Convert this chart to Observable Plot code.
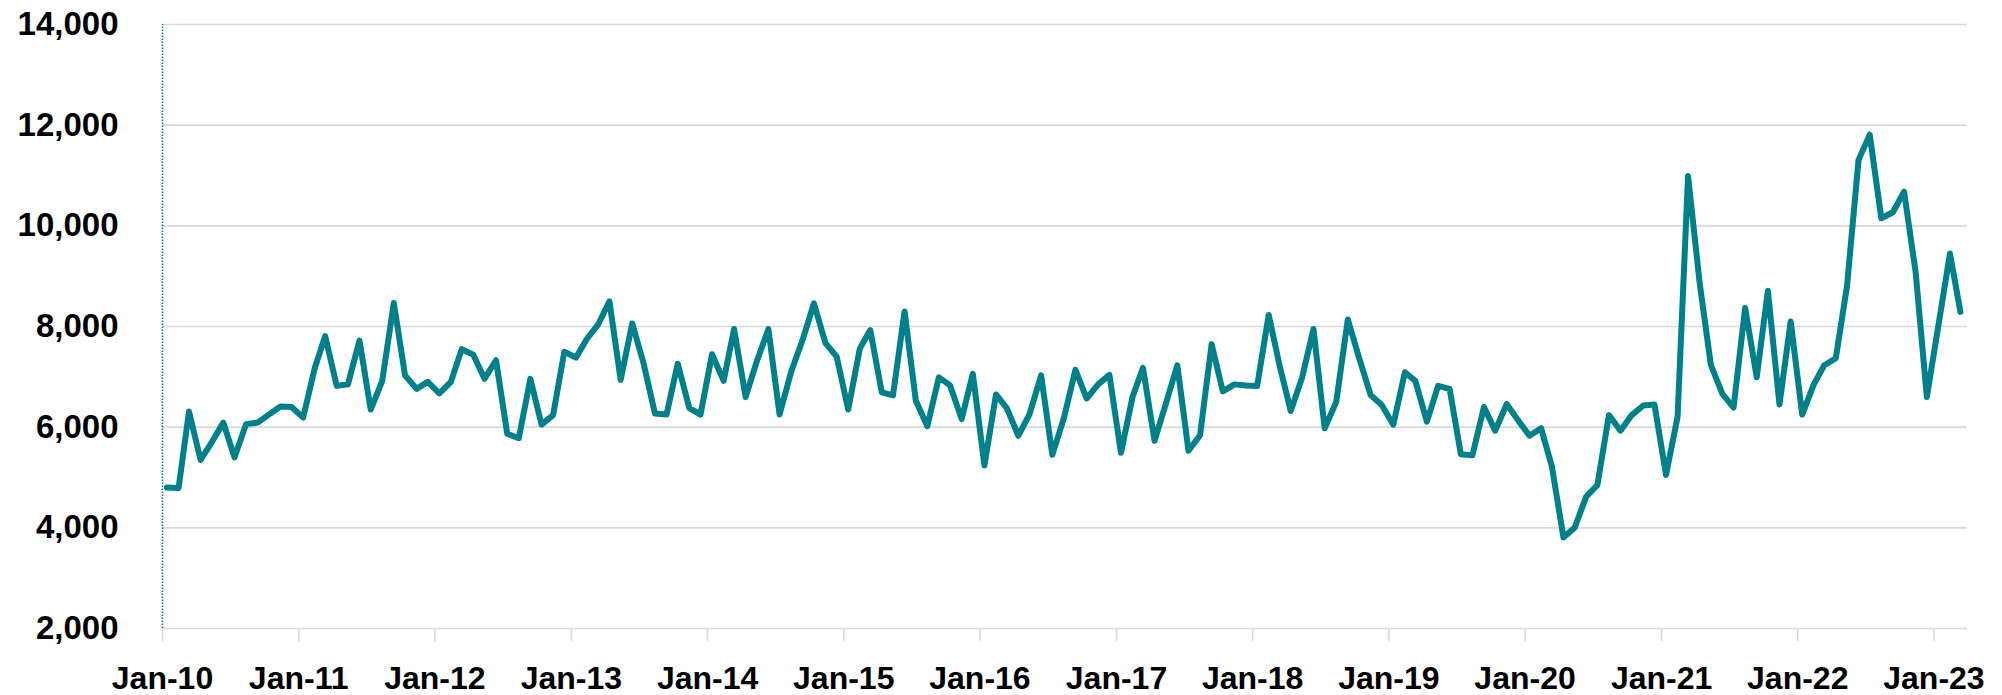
<!DOCTYPE html>
<html>
<head>
<meta charset="utf-8">
<script src="https://cdn.jsdelivr.net/npm/d3@7"></script>
<script src="https://cdn.jsdelivr.net/npm/@observablehq/plot@0.6"></script>
<style>
  html, body { margin: 0; padding: 0; background: #ffffff; }
  #chart { width: 2002px; height: 695px; }
</style>
</head>
<body>
<div id="chart"></div>
<script>
// Monthly series, Jan-10 .. Mar-23
const startYear = 2010;
const startMonth = 0;
const values = [
  4800, 4790, 6310, 5350, 5700, 6090, 5400, 6060, 6090, 6250, 6410, 6400,
  6190, 7170, 7810, 6820, 6850, 7720, 6350, 6920, 8470, 7030, 6760, 6900,
  6670, 6900, 7550, 7440, 6960, 7330, 5870, 5780, 6960, 6050, 6240, 7500,
  7380, 7770, 8030, 8500, 6940, 8060, 7280, 6270, 6250, 7260, 6380, 6250,
  7450, 6920, 7950, 6600, 7310, 7950, 6250, 7100, 7740, 8460, 7670, 7400,
  6350, 7560, 7930, 6690, 6630, 8300, 6530, 6020, 6990, 6830, 6160, 7060,
  5240, 6650, 6380, 5830, 6260, 7030, 5450, 6180, 7140, 6570, 6850, 7040,
  5490, 6600, 7180, 5730, 6460, 7230, 5530, 5840, 7650, 6710, 6850, 6830,
  6820, 8230, 7260, 6320, 6970, 7950, 5980, 6500, 8140, 7380, 6640, 6440,
  6050, 7090, 6920, 6110, 6820, 6760, 5460, 5440, 6400, 5930, 6460, 6140,
  5830, 5980, 5220, 3810, 4000, 4620, 4850, 6240, 5930, 6240, 6430, 6450,
  5050, 6210, 10990, 8870, 7240, 6660, 6390, 8370, 6990, 8710, 6450, 8100,
  6250, 6850, 7230, 7370, 8800, 11310, 11810, 10150, 10270, 10680, 9080, 6600,
  8020, 9450, 8290
];
const tickYears = [2010, 2011, 2012, 2013, 2014, 2015, 2016, 2017, 2018, 2019, 2020, 2021, 2022, 2023];
const tickLabels = ["Jan-10", "Jan-11", "Jan-12", "Jan-13", "Jan-14", "Jan-15", "Jan-16",
                    "Jan-17", "Jan-18", "Jan-19", "Jan-20", "Jan-21", "Jan-22", "Jan-23"];
const yTicks = [2000, 4000, 6000, 8000, 10000, 12000, 14000];

const data = values.map((v, i) => ({
  date: new Date(Date.UTC(startYear, startMonth + i, 13)),
  value: v
}));
const tickDates = tickYears.map(y => new Date(Date.UTC(y, 0, 1)));
const labelFor = new Map(tickDates.map((d, i) => [+d, tickLabels[i]]));

const teal = "#00808a";
const grid = "#d9d9d9";

const chart = Plot.plot({
  width: 2002,
  height: 695,
  marginLeft: 162,
  marginRight: 35,
  marginTop: 24,
  marginBottom: 67,
  style: { fontFamily: "'Liberation Sans', Arial, sans-serif", background: "#ffffff", color: "#000000" },
  x: { type: "utc", domain: [new Date(Date.UTC(2010, 0, 1)), new Date(Date.UTC(2023, 3, 1))] },
  y: { domain: [2000, 14000] },
  marks: [
    Plot.gridY(yTicks, { stroke: grid, strokeOpacity: 1, strokeWidth: 1.6 }),
    Plot.axisX(tickDates, {
      tickSize: 13,
      tickPadding: 25,
      stroke: grid,
      strokeWidth: 1.6,
      strokeOpacity: 1,
      fill: "#000000",
      fontSize: 32,
      fontWeight: "bold",
      tickFormat: d => labelFor.get(+d),
      label: null
    }),
    Plot.axisY(yTicks, {
      tickSize: 0,
      tickPadding: 44,
      fill: "#000000",
      fontSize: 33,
      fontWeight: "bold",
      tickFormat: d => d3.format(",")(d),
      label: null
    }),
    Plot.ruleX([new Date(Date.UTC(2010, 0, 1))], {
      y1: 2000, y2: 14000, stroke: teal, strokeWidth: 1.6, strokeDasharray: "1.5,1.5"
    }),
    Plot.line(data, {
      x: "date", y: "value", stroke: teal, strokeWidth: 6,
      strokeLinejoin: "round", strokeLinecap: "round"
    })
  ]
});
document.getElementById("chart").append(chart);
</script>
</body>
</html>
